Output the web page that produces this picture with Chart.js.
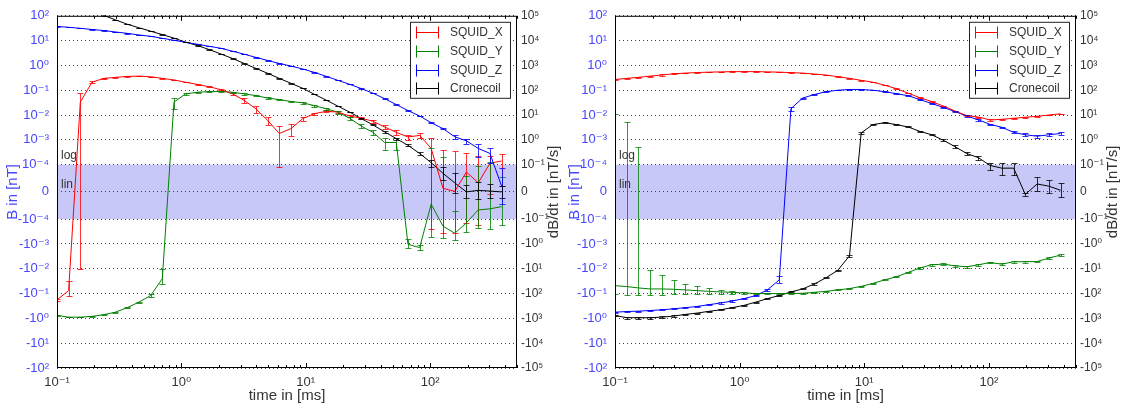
<!DOCTYPE html>
<html>
<head>
<meta charset="utf-8">
<script src="https://cdn.jsdelivr.net/npm/chart.js@4.4.1/dist/chart.umd.min.js"></script>
<style>
  html, body { margin: 0; padding: 0; background: #fff; }
  #wrap { position: relative; width: 1124px; height: 405px; }
  #wrap canvas { position: absolute; top: 0; }
</style>
</head>
<body>
<div id="wrap">
  <canvas id="left-chart" width="562" height="405" style="left:0px"></canvas>
  <canvas id="right-chart" width="562" height="405" style="left:562px"></canvas>
</div>
<script>
// --- Data ---
const times = [0.1, 0.124, 0.154, 0.191, 0.238, 0.295, 0.367, 0.456, 0.566, 0.703,
  0.872, 1.08, 1.35, 1.67, 2.08, 2.58, 3.20, 3.97, 4.94, 6.13,
  7.61, 9.45, 11.7, 14.6, 18.1, 22.5, 27.9, 34.7, 43.1, 53.5,
  66.4, 82.5, 102, 127, 158, 196, 244, 303, 376];

const seriesNames = ["SQUID_X", "SQUID_Y", "SQUID_Z", "Cronecoil"];
const bTicks = [100, 10, 1, 0.1, 0.01, 0.001, 0.0001, 0, -0.0001, -0.001, -0.01, -0.1, -1, -10, -100];
const dbdtTicks = [1e5, 1e4, 1e3, 100, 10, 1, 0.1, 0, -0.1, -1, -10, -100, -1e3, -1e4, -1e5];
const timeTicks = [0.1, 1, 10, 100];

// left panel
const leftX = [-0.18, -0.076, 0.033, 0.21, 0.30, 0.33, 0.36, 0.37, 0.35, 0.30,
  0.26, 0.21, 0.17, 0.138, 0.105, 0.071, 0.0387, 0.0179, 0.0061, 0.00179,
  0.00283, 0.0071, 0.0113, 0.0141, 0.0132, 0.0091, 0.0075, 0.0056, 0.0033, 0.0020,
  0.0013, 0.0015, 0.00045, 0.000013, 0.000002, 0.000073, 0.000033, 0.000113, 0.000141];
const leftXErr = [0.02, 0.045, 0.043, 0.02, 0.01, 0.01, 0.005, 0.005, 0.005, 0.005,
  0.005, 0.004, 0.004, 0.004, 0.004, 0.005, 0.009, 0.0055, 0.0021, 0.0017,
  0.0014, 0.0012, 0.0012, 0.0012, 0.0011, 0.0009, 0.0008, 0.0007, 0.00055, 0.0004,
  0.0003, 0.00035, 0.0007, 0.00038, 0.00035, 0.00021, 0.0002, 0.00012, 0.00012];
const leftY = [-0.76, -0.89, -0.89, -0.83, -0.71, -0.56, -0.37, -0.22, -0.12, -0.025,
  0.033, 0.071, 0.083, 0.087, 0.089, 0.083, 0.071, 0.061, 0.048, 0.042,
  0.035, 0.031, 0.024, 0.018, 0.013, 0.0075, 0.0036, 0.0020, 0.00078, 0.00078,
  -0.00103, -0.0014, -0.000045, -0.00019, -0.00037, -0.00014, -0.000066, -0.000062, -0.000054];
const leftYErr = [0.02, 0.02, 0.02, 0.02, 0.02, 0.02, 0.015, 0.01, 0.012, 0.015,
  0.015, 0.005, 0.004, 0.004, 0.004, 0.004, 0.004, 0.003, 0.003, 0.003,
  0.002, 0.002, 0.002, 0.002, 0.0015, 0.001, 0.0007, 0.0004, 0.0004, 0.0004,
  0.0004, 0.0003, 0.0005, 0.0004, 0.0003, 0.0002, 0.00016, 0.00019, 0.00011];
const leftZ = [37.3, 34.4, 31.3, 28.1, 25.4, 22.3, 19.6, 16.9, 14.9, 12.4,
  10.3, 8.55, 7.1, 5.9, 4.9, 3.73, 2.83, 2.11, 1.58, 1.2,
  0.94, 0.72, 0.525, 0.363, 0.251, 0.174, 0.117, 0.076, 0.0457, 0.0263,
  0.0151, 0.0091, 0.0049, 0.00283, 0.00132, 0.00091, 0.00045, 0.000283, 0.000021];
const leftZErr = [0.5, 0.5, 0.5, 0.4, 0.4, 0.3, 0.3, 0.2, 0.2, 0.2,
  0.15, 0.12, 0.1, 0.08, 0.07, 0.05, 0.04, 0.03, 0.02, 0.02,
  0.015, 0.01, 0.008, 0.006, 0.004, 0.003, 0.002, 0.0015, 0.001, 0.0006,
  0.0004, 0.0003, 0.0003, 0.0002, 0.0002, 0.00021, 0.00025, 0.00017, 0.000065];
const leftC = [575, 380, 245, 158, 103, 69, 45.7, 33, 24, 17.4,
  12.6, 8.7, 6.3, 4.37, 2.88, 1.9, 1.2, 0.76, 0.48, 0.30,
  0.19, 0.12, 0.069, 0.040, 0.023, 0.0132, 0.0072, 0.0040, 0.0021, 0.00112,
  0.0006, 0.00028, 0.00012, 0.000068, 0.000033, 0.0, 0.0000057, 0.000003, 0.0];
const leftCErr = [0, 0, 0, 0, 2, 1.4, 0.9, 0.6, 0.5, 0.35,
  0.25, 0.17, 0.12, 0.09, 0.06, 0.04, 0.025, 0.015, 0.01, 0.006,
  0.004, 0.0025, 0.0015, 0.001, 0.0006, 0.0004, 0.0003, 0.0002, 0.00015, 0.0001,
  0.00006, 0.00004, 0.00003, 0.000024, 0.000036, 0.000024, 0.00003, 0.000027, 0.000021];

// right panel
const rightX = [0.27, 0.30, 0.33, 0.37, 0.41, 0.46, 0.49, 0.515, 0.535, 0.55,
  0.56, 0.56, 0.56, 0.55, 0.535, 0.51, 0.49, 0.45, 0.41, 0.35,
  0.30, 0.25, 0.21, 0.159, 0.115, 0.076, 0.05, 0.035, 0.023, 0.0145,
  0.0095, 0.0083, 0.0063, 0.0067, 0.0074, 0.0081, 0.0089, 0.010, 0.0112];
const rightXErr = [0.02, 0.02, 0.02, 0.02, 0.02, 0.02, 0.01, 0.01, 0.01, 0.01,
  0.01, 0.01, 0.01, 0.01, 0.01, 0.01, 0.01, 0.01, 0.01, 0.01,
  0.008, 0.006, 0.005, 0.004, 0.003, 0.002, 0.0015, 0.001, 0.0007, 0.0005,
  0.0004, 0.0004, 0.0003, 0.0003, 0.0003, 0.0003, 0.0003, 0.0003, 0.0003];
const rightY = [-0.048, -0.052, -0.059, -0.065, -0.065, -0.067, -0.071, -0.076, -0.081, -0.086,
  -0.089, -0.094, -0.1, -0.1, -0.1, -0.1, -0.097, -0.089, -0.081, -0.071,
  -0.063, -0.051, -0.039, -0.028, -0.021, -0.014, -0.0093, -0.0069, -0.0065, -0.0076,
  -0.0083, -0.0069, -0.0056, -0.0065, -0.0052, -0.0052, -0.0051, -0.0037, -0.0028];
const rightYErr = [0.059, 0.057, 0.0595, 0.054, 0.047, 0.039, 0.03, 0.025, 0.022, 0.015,
  0.012, 0.01, 0.007, 0.005, 0.004, 0.004, 0.004, 0.003, 0.003, 0.003,
  0.002, 0.002, 0.002, 0.0015, 0.001, 0.001, 0.0008, 0.0006, 0.0006, 0.0006,
  0.0006, 0.0005, 0.0005, 0.0005, 0.0005, 0.0005, 0.0004, 0.0003, 0.0003];
const rightZ = [-0.56, -0.53, -0.51, -0.48, -0.45, -0.41, -0.37, -0.33, -0.28, -0.24,
  -0.20, -0.16, -0.12, -0.071, -0.028, 0.018, 0.048, 0.067, 0.087, 0.10,
  0.107, 0.107, 0.10, 0.087, 0.072, 0.06, 0.042, 0.029, 0.0204, 0.0137,
  0.0091, 0.0064, 0.0042, 0.0032, 0.002, 0.0016, 0.0014, 0.0016, 0.0018];
const rightZErr = [0.02, 0.02, 0.02, 0.02, 0.02, 0.02, 0.02, 0.02, 0.015, 0.015,
  0.012, 0.01, 0.01, 0.008, 0.008, 0.003, 0.002, 0.002, 0.002, 0.002,
  0.002, 0.002, 0.002, 0.002, 0.002, 0.002, 0.0015, 0.001, 0.0008, 0.0006,
  0.0005, 0.0004, 0.0003, 0.0002, 0.0002, 0.0002, 0.0002, 0.0002, 0.0002];
const rightC = [-0.76, -0.94, -0.94, -0.94, -0.89, -0.81, -0.69, -0.61, -0.52, -0.45,
  -0.37, -0.30, -0.22, -0.16, -0.12, -0.086, -0.065, -0.041, -0.023, -0.0115,
  -0.003, 0.0019, 0.0041, 0.0049, 0.0041, 0.0033, 0.0022, 0.0016, 0.00096, 0.00053,
  0.00028, 0.00019, 0.000097, 0.000087, 0.000087, -0.000009, 0.000029, 0.000021, 0.000006];
const rightCErr = [0.05, 0.07, 0.07, 0.07, 0.06, 0.05, 0.04, 0.03, 0.02, 0.02,
  0.015, 0.012, 0.01, 0.008, 0.006, 0.004, 0.003, 0.002, 0.001, 0.0006,
  0.0003, 0.0002, 0.0002, 0.0002, 0.0002, 0.00015, 0.0001, 0.0001, 0.00008, 0.00006,
  0.00004, 0.00003, 0.000015, 0.000025, 0.000025, 0.000005, 0.000027, 0.000024, 0.000026];

// --- Styling ---
const FONT = "'Liberation Sans', 'DejaVu Sans', sans-serif";
const colors = ["#ff0000", "#008000", "#0000ff", "#000000"];
const bandColor = "#c8c8f8";
const leftAxisColor = "#4646ff";
const textColor = "#333333";
Chart.defaults.font.family = FONT;

const SUP = { "-": "⁻", "0": "⁰", "1": "¹", "2": "²", "3": "³", "4": "⁴", "5": "⁵", "6": "⁶", "7": "⁷", "8": "⁸", "9": "⁹" };
function powLabel(v) {
  if (v === 0) return "0";
  const e = String(Math.round(Math.log10(Math.abs(v))));
  return (v < 0 ? "-" : "") + "10" + e.split("").map((c) => SUP[c]).join("");
}

// --- symmetric log scale: log outside +-thresh, linear inside ---
const symCfg = {
  y: { thresh: 1e-4, half: 1.1, min: -100, max: 100, ticks: bTicks },
  y2: { thresh: 1e-1, half: 1.1, min: -1e5, max: 1e5, ticks: dbdtTicks },
};

class SymLogScale extends Chart.LinearScale {
  static id = "symlog";
  static defaults = {};
  cfg() { return symCfg[this.id]; }
  determineDataLimits() {
    const c = this.cfg();
    this.min = c.min;
    this.max = c.max;
  }
  buildTicks() {
    return this.cfg().ticks.map((v) => ({ value: v }));
  }
  toT(v) {
    const c = this.cfg();
    const a = Math.abs(v);
    if (a <= c.thresh) return (v / c.thresh) * c.half;
    return Math.sign(v) * (c.half + Math.log10(a / c.thresh));
  }
  configure() {
    super.configure();
    this._tMin = this.toT(this.min);
    this._tMax = this.toT(this.max);
  }
  getPixelForValue(v) {
    return this.getPixelForDecimal((this.toT(v) - this._tMin) / (this._tMax - this._tMin));
  }
  getValueForPixel(p) {
    const c = this.cfg();
    const t = this._tMin + this.getDecimalForPixel(p) * (this._tMax - this._tMin);
    const a = Math.abs(t);
    if (a <= c.half) return (t / c.half) * c.thresh;
    return Math.sign(t) * c.thresh * Math.pow(10, a - c.half);
  }
}
Chart.register(SymLogScale);

// --- Plugins ---
const bandPlugin = {
  id: "band",
  beforeDraw(chart) {
    const { ctx, chartArea: a } = chart;
    const ys = chart.scales.y;
    const top = ys.getPixelForValue(1e-4), bottom = ys.getPixelForValue(-1e-4);
    ctx.save();
    ctx.fillStyle = bandColor;
    ctx.fillRect(a.left, top, a.right - a.left, bottom - top);
    ctx.restore();
  },
};

const errorBarPlugin = {
  id: "errorBars",
  afterDatasetsDraw(chart) {
    const { ctx, chartArea: a } = chart;
    const xs = chart.scales.x, ys = chart.scales.y;
    ctx.save();
    ctx.beginPath();
    ctx.rect(a.left, a.top, a.right - a.left, a.bottom - a.top);
    ctx.clip();
    ctx.lineWidth = 1;
    ctx.globalAlpha = 0.8;
    chart.data.datasets.forEach((ds) => {
      ctx.strokeStyle = ds.borderColor;
      ds.data.forEach((p, i) => {
        const e = ds.errors[i];
        const px = Math.round(xs.getPixelForValue(p.x)) + 0.5;
        const y1 = Math.round(ys.getPixelForValue(p.y - e)) + 0.5;
        const y2 = Math.round(ys.getPixelForValue(p.y + e)) + 0.5;
        ctx.beginPath();
        ctx.moveTo(px, y1); ctx.lineTo(px, y2);
        ctx.moveTo(px - 3, y1); ctx.lineTo(px + 3, y1);
        ctx.moveTo(px - 3, y2); ctx.lineTo(px + 3, y2);
        ctx.stroke();
      });
    });
    ctx.restore();
  },
};

const decorPlugin = {
  id: "decor",
  afterDraw(chart) {
    const { ctx, chartArea: a } = chart;
    const xs = chart.scales.x, ys = chart.scales.y;
    ctx.save();

    // minor / major ticks along top and bottom
    ctx.strokeStyle = "#000";
    ctx.lineWidth = 1;
    ctx.beginPath();
    for (let n = -1; n <= 2; n++) {
      for (let d = 1; d <= 9; d++) {
        const v = d * Math.pow(10, n);
        if (v < xs.min || v > xs.max) continue;
        const px = Math.round(xs.getPixelForValue(v)) + 0.5;
        const len = d === 1 ? 5 : 3;
        ctx.moveTo(px, a.bottom); ctx.lineTo(px, a.bottom - len);
        ctx.moveTo(px, a.top); ctx.lineTo(px, a.top + len);
      }
    }
    ctx.stroke();

    // frame
    ctx.strokeRect(a.left + 0.5, a.top + 0.5, a.right - a.left - 1, a.bottom - a.top - 1);

    // log / lin markers
    ctx.fillStyle = textColor;
    ctx.font = "12px " + FONT;
    ctx.textAlign = "left";
    ctx.textBaseline = "alphabetic";
    ctx.fillText("log", a.left + 4, ys.getPixelForValue(1e-4) - 6);
    ctx.fillText("lin", a.left + 4, ys.getPixelForValue(0) - 4);

    // right axis title
    ctx.save();
    ctx.translate(a.right + 37, (a.top + a.bottom) / 2);
    ctx.rotate(-Math.PI / 2);
    ctx.textAlign = "center";
    ctx.textBaseline = "middle";
    ctx.font = "15px " + FONT;
    ctx.fillStyle = textColor;
    ctx.fillText("dB/dt in [nT/s]", 0, 0);
    ctx.restore();

    // legend
    const bx = a.right - 107, by = a.top + 6, bw = 100, bh = 76;
    ctx.fillStyle = "#fff";
    ctx.fillRect(bx, by, bw, bh);
    ctx.strokeStyle = "#222";
    ctx.strokeRect(bx + 0.5, by + 0.5, bw, bh);
    ctx.font = "12px " + FONT;
    ctx.textBaseline = "middle";
    chart.data.datasets.forEach((ds, i) => {
      const ry = Math.round(by + 10.5 + 18.7 * i) + 0.5;
      const x0 = bx + 6.5, x1 = bx + 28.5;
      ctx.strokeStyle = ds.borderColor;
      ctx.beginPath();
      ctx.moveTo(x0, ry); ctx.lineTo(x1, ry);
      ctx.moveTo(x0, ry - 6); ctx.lineTo(x0, ry + 6);
      ctx.moveTo(x1, ry - 6); ctx.lineTo(x1, ry + 6);
      ctx.stroke();
      ctx.fillStyle = textColor;
      ctx.fillText(ds.label, bx + 40, ry + 0.5);
    });
    ctx.restore();
  },
};

function buildChart(canvasId, values, errors, leftWidth, rightWidth) {
  const datasets = seriesNames.map((name, s) => ({
    label: name,
    data: times.map((t, i) => ({ x: t, y: values[s][i] })),
    errors: errors[s],
    borderColor: colors[s],
    backgroundColor: colors[s],
    borderWidth: 1,
    pointRadius: 0,
    tension: 0,
    fill: false,
  }));

  return new Chart(document.getElementById(canvasId), {
    type: "line",
    data: { datasets },
    options: {
      responsive: false,
      animation: false,
      events: [],
      layout: { padding: { top: 13, left: 0, right: 0, bottom: 0 } },
      plugins: { legend: { display: false }, tooltip: { enabled: false } },
      scales: {
        x: {
          type: "logarithmic",
          min: 0.1,
          max: 500,
          grid: { display: false, drawTicks: false },
          border: { display: false },
          afterBuildTicks: (scale) => {
            scale.ticks = timeTicks.map((v) => ({ value: v }));
          },
          afterFit: (scale) => { scale.height = 37; },
          ticks: {
            autoSkip: false,
            maxRotation: 0,
            padding: 7,
            color: textColor,
            font: { size: 13 },
            callback: (v) => powLabel(v),
          },
          title: {
            display: true,
            text: "time in [ms]",
            color: textColor,
            font: { size: 15 },
            padding: { top: 0, bottom: 0 },
          },
        },
        y: {
          type: "symlog",
          position: "left",
          grid: { color: "#444", lineWidth: 1, drawTicks: false },
          border: { display: false, dash: [1, 3] },
          afterFit: (scale) => { scale.width = leftWidth; },
          ticks: {
            autoSkip: false,
            padding: 8,
            color: leftAxisColor,
            font: { size: 13 },
            callback: (v) => powLabel(v),
          },
          title: {
            display: true,
            text: "B in [nT]",
            color: leftAxisColor,
            font: { size: 15 },
            padding: { top: 4, bottom: 0 },
          },
        },
        y2: {
          type: "symlog",
          position: "right",
          grid: { display: false, drawTicks: false, drawOnChartArea: false },
          border: { display: false },
          afterFit: (scale) => { scale.width = rightWidth; },
          ticks: {
            autoSkip: false,
            padding: 4,
            color: textColor,
            font: { size: 12 },
            callback: (v) => powLabel(v),
          },
        },
      },
    },
    plugins: [bandPlugin, errorBarPlugin, decorPlugin],
  });
}

buildChart("left-chart",
  [leftX, leftY, leftZ, leftC],
  [leftXErr, leftYErr, leftZErr, leftCErr], 57, 45);
buildChart("right-chart",
  [rightX, rightY, rightZ, rightC],
  [rightXErr, rightYErr, rightZErr, rightCErr], 53, 48);
</script>
</body>
</html>
